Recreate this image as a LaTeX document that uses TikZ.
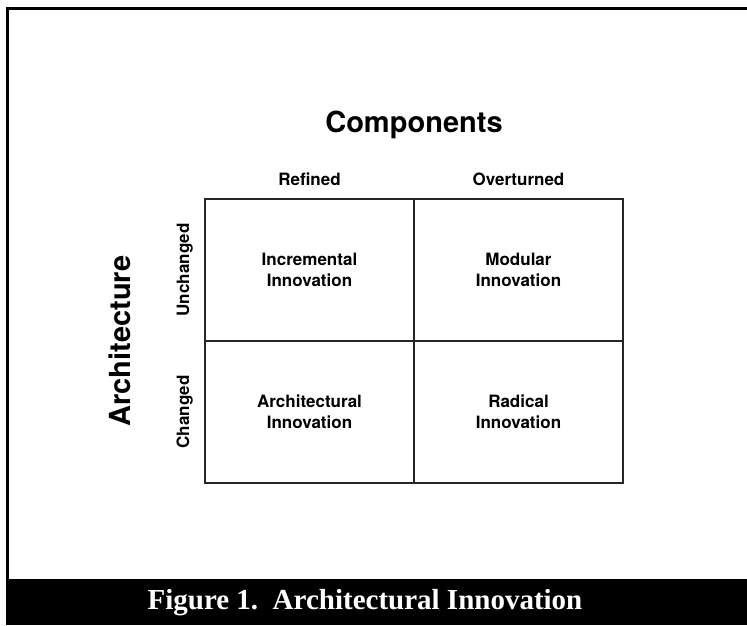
\documentclass[tikz,border=0pt]{standalone}
\usepackage{fontspec}
\setmainfont{TeX Gyre Heros}
\newfontfamily\capfont{Liberation Serif}
\usetikzlibrary{positioning}

\tikzset{
  cell/.style={draw=black!85, line width=1.4pt, minimum width=209pt, minimum height=142pt,
    inner sep=0pt, outer sep=0pt, align=center, font=\fontsize{17}{21}\selectfont\bfseries},
  lbl/.style={font=\fontsize{17}{21}\selectfont\bfseries, anchor=base, inner sep=0pt},
  title/.style={font=\fontsize{29}{32}\selectfont\bfseries, anchor=base, inner sep=0pt},
}

\begin{document}
\begin{tikzpicture}[x=1pt,y=-1pt]
    \useasboundingbox (0,0) rectangle (747,625);
    % frame and caption band
    \draw[line width=2.5pt] (7.3,625) -- (7.3,8.7) -- (747,8.7);
    \fill (6,579) rectangle (747,625);
    \node[text=white, inner sep=0pt, font=\capfont\bfseries\fontsize{29}{32}\selectfont] (caption)
      at (365,603) {Figure 1.\ \ Architectural Innovation};
    % the four cells
    \node[cell] (incr) at (309.5,270) {Incremental\\Innovation};
    \node[cell, right=0pt of incr] (modu) {Modular\\Innovation};
    \node[cell, below=0pt of incr] (arch) {Architectural\\Innovation};
    \node[cell, right=0pt of arch] (radi) {Radical\\Innovation};
    % axes
    \node[title] (comp) at (414,132) {Components};
    \node[lbl] (refd) at (309.5,185) {Refined};
    \node[lbl] (ovtd) at (518.5,185) {Overturned};
    \node[title, rotate=90] (archi) at (130,341) {Architecture};
    \node[lbl, rotate=90] (unch) at (189,270) {Unchanged};
    \node[lbl, rotate=90] (chgd) at (189,412) {Changed};
\end{tikzpicture}
\end{document}
